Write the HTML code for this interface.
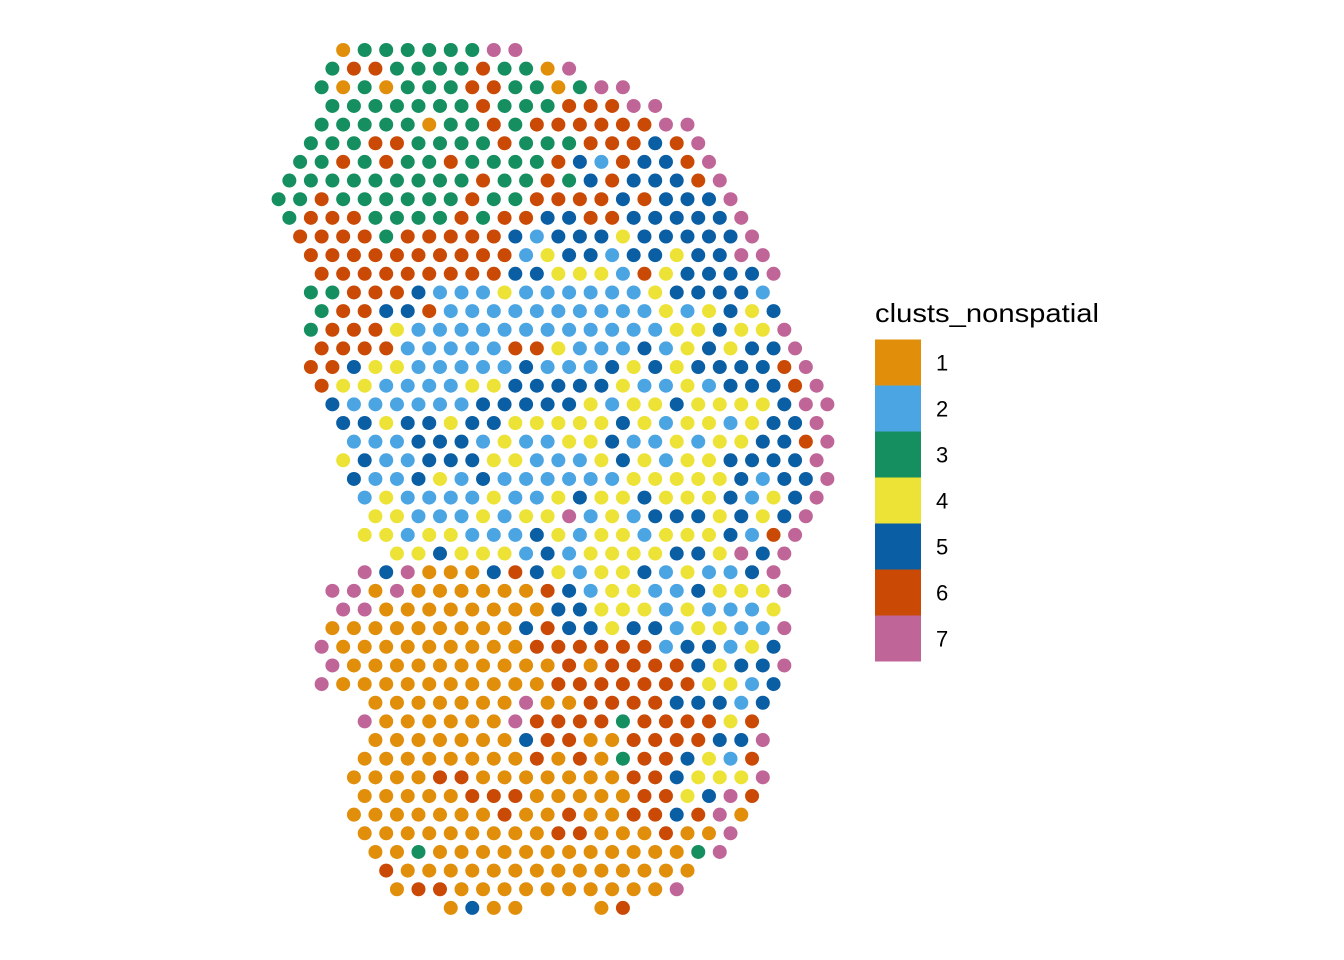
<!DOCTYPE html>
<html><head><meta charset="utf-8">
<style>
html,body{margin:0;padding:0;background:#fff;}
svg{display:block;}
text{font-family:"Liberation Sans",Arial,sans-serif;fill:#000;}
</style></head>
<body>
<svg id="chart" width="1344" height="960" viewBox="0 0 1344 960" xmlns="http://www.w3.org/2000/svg">
  <rect x="0" y="0" width="1344" height="960" fill="#ffffff"/>
  <g id="spots"></g>
  <g id="legend">
    <text x="875" y="322" font-size="26" textLength="224" lengthAdjust="spacingAndGlyphs">clusts_nonspatial</text>
  </g>
</svg>
<script>
// cluster categories and colours
const clusterLabels = ["1","2","3","4","5","6","7"];
const clusterColors = ["#E18E0A","#4BA5E3","#158F5F","#EDE236","#0A5EA3","#CA4A05","#C06597"];
// first hex-column index of each spot row
const rowStart = [6,5,4,5,4,3,2,1,0,1,2,3,4,3,4,3,4,3,4,5,6,7,6,7,8,9,8,11,8,5,6,5,4,5,4,9,8,9,8,7,8,7,8,9,10,11,16];
// cluster id of every spot in each row ('.' = no spot)
const rowClusters = [
"133333377",
"366333363317",
"313133366331377",
"3333333633366677",
"333331336366666677",
"3336633336333666567",
"33636336333365265567",
"333333333633635655567",
"3363333336336666565557",
"3666333363665566555557",
"6666366666525554555557",
"6666666666245525545577",
"6666666665544426455557",
"3366652224222222455552",
"3665562222222222424545",
"36664222222222222445447",
"66662222266422252454557",
"665442222252225454555567",
"644222244555554224255567",
"522222255555424454444577",
"55455455444445424424557",
"22255524224452242445567",
"45225554422245424455557",
"52254252222224444452557",
"2422224224544544452457",
"442224244724255545457",
"442442225424424445267",
"4454442524444554757",
"75711156542445242257",
"7717111111652442254447",
"771111111155444242224",
"1111111115655455244227",
"7111111111666666255245",
"7111111111161666654557",
"7111111111166666664425",
"1111111711666655525",
"7111111766663666646",
"1111111566116666557",
"1111111161613665426",
"11116611111116654447",
"1111166611111664576",
"1111111611611665671",
"111111111661116117",
"11311111111111137",
"611111111111111",
"16611111111117",
"1511...16"
];
const NS = "http://www.w3.org/2000/svg";
// axis functions (hex grid to pixels)
function xPos(col){ return 278.6 + col * 10.76; }
function yPos(row){ return 50 + row * 18.65; }
const spots = document.getElementById("spots");
rowClusters.forEach(function(str, r){
  for (let i = 0; i < str.length; i++){
    const ch = str[i];
    if (ch === ".") continue;
    const k = parseInt(ch, 10) - 1;
    const c = document.createElementNS(NS, "circle");
    c.setAttribute("cx", xPos(rowStart[r] + 2*i).toFixed(2));
    c.setAttribute("cy", yPos(r).toFixed(2));
    c.setAttribute("r", "7");
    c.setAttribute("fill", clusterColors[k]);
    
    
    spots.appendChild(c);
  }
});
const legend = document.getElementById("legend");
clusterLabels.forEach(function(lab, i){
  const y0 = 339.5 + i * 46;
  const rect = document.createElementNS(NS, "rect");
  rect.setAttribute("x", "875");
  rect.setAttribute("y", y0.toFixed(1));
  rect.setAttribute("width", "46");
  rect.setAttribute("height", "46");
  rect.setAttribute("fill", clusterColors[i]);
  
  
  legend.appendChild(rect);
  const t = document.createElementNS(NS, "text");
  t.setAttribute("x", "936");
  t.setAttribute("y", (y0 + 31).toFixed(1));
  t.setAttribute("font-size", "22");
  t.textContent = lab;
  
  
  legend.appendChild(t);
});
</script>
</body></html>
